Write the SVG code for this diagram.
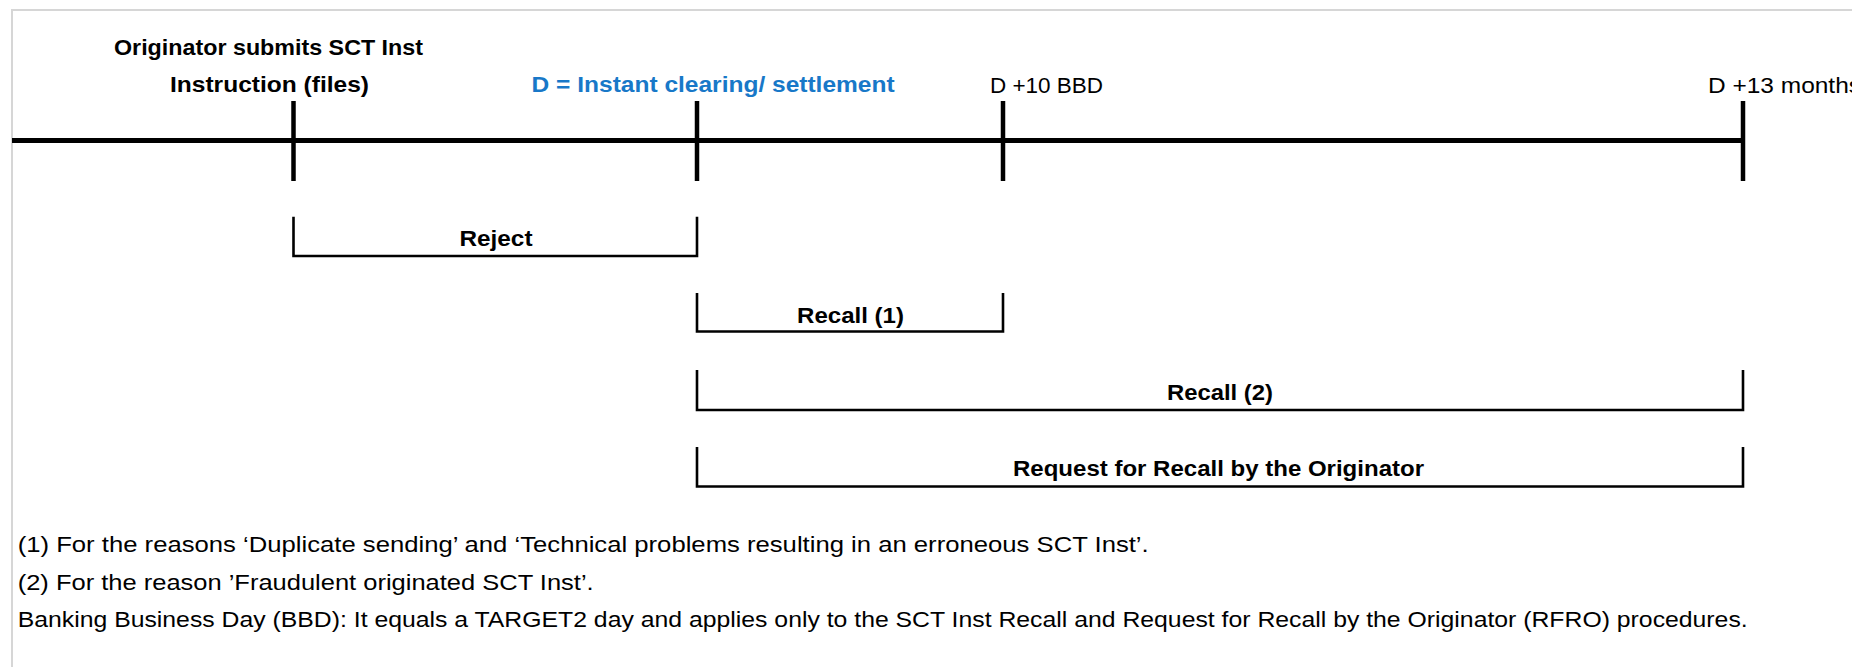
<svg xmlns="http://www.w3.org/2000/svg" width="1852" height="667" viewBox="0 0 1852 667">
  <style>
    .t { font-family: "Liberation Sans", Arial, sans-serif; font-size: 22px; fill: #000; }
    .b { font-weight: bold; }
    .blue { fill: #1878C8; }
    .axis { stroke: #000; stroke-width: 5; fill: none; }
    .tick { stroke: #000; stroke-width: 4.5; fill: none; }
    .br { stroke: #000; stroke-width: 2.6; fill: none; }
    .frame { stroke: #d6d6d6; stroke-width: 2; fill: none; }
  </style>
  <rect x="0" y="0" width="1852" height="667" fill="#ffffff"/>
  <g id="frame">
    <path class="frame" d="M12 667 V10 H1852"/>
  </g>

  <g id="connectors">
    <line id="axis" class="axis" x1="12" y1="140.5" x2="1743" y2="140.5"/>
    <line class="tick" x1="293.5" y1="101" x2="293.5" y2="181"/>
    <line class="tick" x1="697" y1="101" x2="697" y2="181"/>
    <line class="tick" x1="1003" y1="101" x2="1003" y2="181"/>
    <line class="tick" x1="1743" y1="101" x2="1743" y2="181"/>
  </g>

  <g id="node-originator">
    <text class="t b" x="114" y="55" textLength="309" lengthAdjust="spacingAndGlyphs">Originator submits SCT Inst</text>
    <text class="t b" x="170" y="92" textLength="199" lengthAdjust="spacingAndGlyphs">Instruction (files)</text>
  </g>
  <g id="node-d">
    <text class="t b blue" x="531.6" y="92" textLength="363" lengthAdjust="spacingAndGlyphs">D = Instant clearing/ settlement</text>
  </g>
  <g id="node-d10">
    <text class="t" x="990" y="92.5" textLength="113" lengthAdjust="spacingAndGlyphs">D +10 BBD</text>
  </g>
  <g id="node-d13">
    <text class="t" x="1708" y="92.5" textLength="153" lengthAdjust="spacingAndGlyphs">D +13 months</text>
  </g>

  <g id="node-reject">
    <path class="br" d="M293.5 216.7 V256 H697 V216.7"/>
    <text class="t b" x="459.5" y="245.5" textLength="73" lengthAdjust="spacingAndGlyphs">Reject</text>
  </g>
  <g id="node-recall1">
    <path class="br" d="M697 293 V331.5 H1003 V293"/>
    <text class="t b" x="797" y="323" textLength="107" lengthAdjust="spacingAndGlyphs">Recall (1)</text>
  </g>
  <g id="node-recall2">
    <path class="br" d="M697 370 V410 H1743 V370"/>
    <text class="t b" x="1167" y="400" textLength="106" lengthAdjust="spacingAndGlyphs">Recall (2)</text>
  </g>
  <g id="node-rfro">
    <path class="br" d="M697 447 V486.5 H1743 V447"/>
    <text class="t b" x="1013" y="476" textLength="411" lengthAdjust="spacingAndGlyphs">Request for Recall by the Originator</text>
  </g>

  <g id="footnotes">
    <text class="t" x="17.7" y="552" textLength="1131" lengthAdjust="spacingAndGlyphs">(1) For the reasons ‘Duplicate sending’ and ‘Technical problems resulting in an erroneous SCT Inst’.</text>
    <text class="t" x="17.7" y="589.5" textLength="576" lengthAdjust="spacingAndGlyphs">(2) For the reason ’Fraudulent originated SCT Inst’.</text>
    <text class="t" x="17.7" y="627" textLength="1730" lengthAdjust="spacingAndGlyphs">Banking Business Day (BBD): It equals a TARGET2 day and applies only to the SCT Inst Recall and Request for Recall by the Originator (RFRO) procedures.</text>
  </g>
</svg>
